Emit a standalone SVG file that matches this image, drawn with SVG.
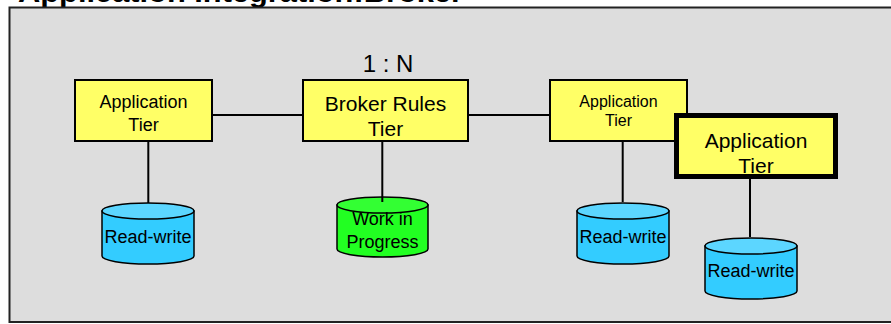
<svg xmlns="http://www.w3.org/2000/svg" width="891" height="324" viewBox="0 0 891 324">
<style>
text{font-family:"Liberation Sans",Arial,sans-serif;fill:#000;text-anchor:middle}
.box{fill:#FFFF66;stroke:#000;stroke-width:2}
.thick{fill:#FFFF66;stroke:#000;stroke-width:5}
.blue .body{fill:#33CCFF;stroke:#000;stroke-width:1.5}
.blue .top{fill:#5CD6FF;stroke:#000;stroke-width:1.5}
.green .body{fill:#22FF22;stroke:#000;stroke-width:1.5}
.green .top{fill:#33FF33;stroke:#000;stroke-width:1.5}
.conn line{stroke:#000;stroke-width:2}
</style>
<rect x="0" y="0" width="891" height="324" fill="#fff"/>
<text x="18" y="2" style="font-weight:bold;font-size:30px;text-anchor:start" textLength="445" lengthAdjust="spacingAndGlyphs">Application Integration:Broker</text>
<rect x="9.5" y="7.5" width="900" height="314.5" fill="#DDDDDD" stroke="#222" stroke-width="2"/>
<text x="388" y="72" style="font-size:24px">1 : N</text>

<g id="cyl-rw1" class="blue">
<path class="body" d="M102,211 L102,256 A46,8 0 0 0 194,256 L194,211 Z"/>
<ellipse class="top" cx="148" cy="211" rx="46" ry="8"/>
<text x="148" y="243" style="font-size:18px">Read-write</text>
</g>
<g id="cyl-wip" class="green">
<path class="body" d="M337,205 L337,249 A45.5,8 0 0 0 428,249 L428,205 Z"/>
<ellipse class="top" cx="382.5" cy="205" rx="45.5" ry="8"/>
<text x="382.5" y="225" style="font-size:18px">Work in</text>
<text x="382.5" y="248" style="font-size:18px">Progress</text>
</g>
<g id="cyl-rw3" class="blue">
<path class="body" d="M577,211 L577,256 A46,8 0 0 0 669,256 L669,211 Z"/>
<ellipse class="top" cx="623" cy="211" rx="46" ry="8"/>
<text x="623" y="243" style="font-size:18px">Read-write</text>
</g>
<g id="cyl-rw4" class="blue">
<path class="body" d="M705,246 L705,291 A46,8 0 0 0 797,291 L797,246 Z"/>
<ellipse class="top" cx="751" cy="246" rx="46" ry="8"/>
<text x="751" y="277" style="font-size:18px">Read-write</text>
</g>

<g id="app1">
<rect class="box" x="75" y="80" width="137" height="61"/>
<text x="143.5" y="108" style="font-size:18px">Application</text>
<text x="143.5" y="131" style="font-size:18px">Tier</text>
</g>
<g id="broker">
<rect class="box" x="303" y="80" width="165" height="61"/>
<text x="385.5" y="111" style="font-size:21px">Broker Rules</text>
<text x="385.5" y="136" style="font-size:21px">Tier</text>
</g>
<g id="app3">
<rect class="box" x="550" y="80" width="137" height="61"/>
<text x="618.5" y="107" style="font-size:16px">Application</text>
<text x="618.5" y="126" style="font-size:16px">Tier</text>
</g>
<g id="app4">
<rect class="thick" x="676.5" y="115.5" width="159" height="61"/>
<text x="756" y="147.5" style="font-size:21px">Application</text>
<text x="756" y="173" style="font-size:21px">Tier</text>
</g>

<g id="connectors" class="conn">
<line x1="212" y1="115" x2="303" y2="115"/>
<line x1="468" y1="115" x2="550" y2="115"/>
<line x1="148.3" y1="141" x2="148.3" y2="203"/>
<line x1="382.3" y1="141" x2="382.3" y2="202"/>
<line x1="622.7" y1="141" x2="622.7" y2="202"/>
<line x1="750" y1="179" x2="750" y2="237"/>
</g>
</svg>
